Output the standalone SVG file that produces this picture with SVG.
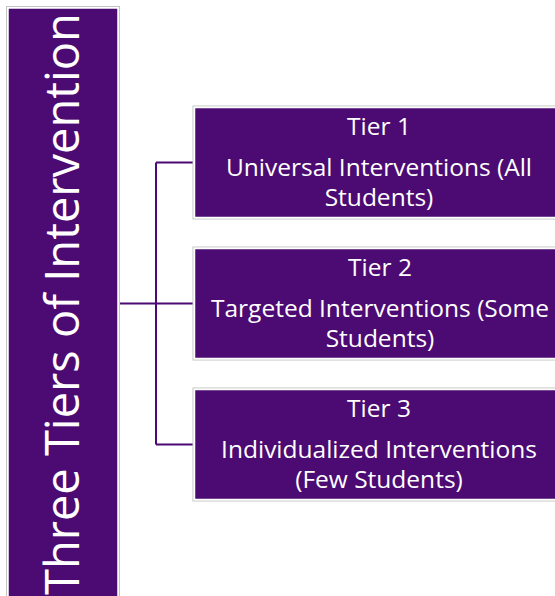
<svg xmlns="http://www.w3.org/2000/svg" width="555" height="596" viewBox="0 0 555 596">
<style>
.box{fill:#4B0B72;stroke:#ffffff;stroke-width:1.5}
.edge{fill:none;stroke:#c4c4c4;stroke-width:1}
.t{font-family:"Open Sans","Liberation Sans",sans-serif;fill:#ffffff;text-anchor:middle;font-size:24.5px}
.title{font-family:"Open Sans","Liberation Sans",sans-serif;fill:#ffffff;text-anchor:middle;font-size:47px}
.conn{fill:none;stroke:#4B0B72;stroke-width:2}
</style>
<rect width="555" height="596" fill="#ffffff"/>
<g id="connectors">
<path class="conn" d="M119 303.5 H193 M156 162.5 V444.5 M156 162.5 H193 M156 444.5 H193"/>
</g>
<g id="title">
<rect class="edge" x="6.5" y="6.5" width="113" height="600"/>
<rect class="box" x="8" y="8" width="110" height="600"/>
<text class="title" transform="translate(79 304) rotate(-90)">Three Tiers of Intervention</text>
</g>
<g id="tier1">
<rect class="edge" x="193" y="106" width="380" height="113"/>
<rect class="box" x="194.5" y="107.5" width="380" height="110"/>
<text class="t" x="379" y="135">Tier 1</text>
<text class="t" x="379" y="176">Universal Interventions (All</text>
<text class="t" x="379" y="206">Students)</text>
</g>
<g id="tier2">
<rect class="edge" x="193" y="247" width="380" height="113"/>
<rect class="box" x="194.5" y="248.5" width="380" height="110"/>
<text class="t" x="380" y="276">Tier 2</text>
<text class="t" x="380" y="317">Targeted Interventions (Some</text>
<text class="t" x="380" y="347">Students)</text>
</g>
<g id="tier3">
<rect class="edge" x="193" y="388" width="380" height="113"/>
<rect class="box" x="194.5" y="389.5" width="380" height="110"/>
<text class="t" x="379" y="417">Tier 3</text>
<text class="t" x="379" y="458">Individualized Interventions</text>
<text class="t" x="379" y="488">(Few Students)</text>
</g>
</svg>
